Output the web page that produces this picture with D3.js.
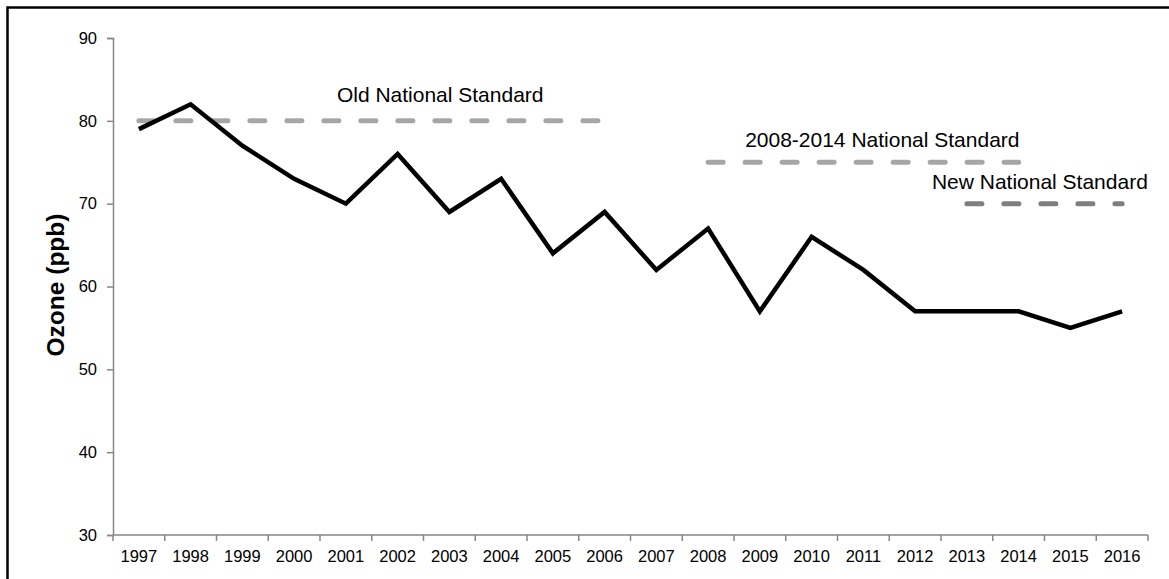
<!DOCTYPE html>
<html>
<head>
<meta charset="utf-8">
<script src="https://cdn.jsdelivr.net/npm/d3@7"></script>
<style>
  html, body { margin: 0; padding: 0; background: #fff; }
  svg { display: block; }
  text { font-family: "Liberation Sans", Arial, sans-serif; fill: #000; }
</style>
</head>
<body>
<svg id="chart" width="1169" height="579"></svg>
<script>
const years = ["1997","1998","1999","2000","2001","2002","2003","2004","2005","2006",
               "2007","2008","2009","2010","2011","2012","2013","2014","2015","2016"];
const ozone = [79, 82, 77, 73, 70, 76, 69, 73, 64, 69, 62, 67, 57, 66, 62, 57, 57, 57, 55, 57];
const yTicks = [30, 40, 50, 60, 70, 80, 90];
const standardNames = ["Old National Standard", "2008-2014 National Standard", "New National Standard"];
const standardValues = [80, 75, 70];
const standardStart = ["1997", "2008", "2013"];
const standardEnd = ["2006", "2014", "2016"];
const yLabel = "Ozone (ppb)";

(function () {
const svg = d3.select("#chart");
const mLeft = 113, mRight = 1148, mTop = 38, mBottom = 535;

// outer frame
svg.append("rect").attr("x", 7.5).attr("y", 7.5).attr("width", 1300).attr("height", 700)
  .attr("fill", "none").attr("stroke", "#000").attr("stroke-width", 2.5);

const x = d3.scaleBand().domain(years).range([mLeft, mRight]).paddingInner(0).paddingOuter(0);
const y = d3.scaleLinear().domain([30, 90]).range([mBottom, mTop]);
const cx = d => x(d) + x.bandwidth() / 2;

const axisColor = "#868686";

// y axis
const yAxis = svg.append("g").attr("transform", `translate(${mLeft},0)`)
  .call(d3.axisLeft(y).tickValues(yTicks).tickSize(6).tickPadding(10).tickFormat(d3.format("d")));
yAxis.select(".domain").attr("stroke", axisColor).attr("stroke-width", 1.5);
yAxis.selectAll(".tick line").attr("stroke", axisColor).attr("stroke-width", 1.5);
yAxis.selectAll(".tick text").style("font-size", "16.5px").attr("fill", "#000");

// x axis labels
const xAxis = svg.append("g").attr("transform", `translate(0,${mBottom})`)
  .call(d3.axisBottom(x).tickSize(0).tickPadding(15));
xAxis.select(".domain").remove();
xAxis.selectAll(".tick text").style("font-size", "16.5px").attr("fill", "#000");

// x axis line and boundary ticks
svg.append("line").attr("x1", mLeft).attr("x2", mRight).attr("y1", mBottom).attr("y2", mBottom)
  .attr("stroke", axisColor).attr("stroke-width", 1.5);
const bounds = years.map(d => x(d)).concat([x(years[years.length - 1]) + x.bandwidth()]);
svg.append("g").selectAll("line").data(bounds).join("line")
  .attr("x1", d => d).attr("x2", d => d).attr("y1", mBottom).attr("y2", mBottom + 6)
  .attr("stroke", axisColor).attr("stroke-width", 1.5);

// y label
svg.append("text")
  .attr("transform", `translate(55,285) rotate(-90)`)
  .attr("text-anchor", "middle").attr("dy", "0.35em")
  .style("font-size", "24.5px").style("font-weight", "bold")
  .text(yLabel);

// standard lines
const stdColors = ["#a6a6a6", "#a6a6a6", "#7f7f7f"];
standardValues.forEach((v, i) => {
  svg.append("line")
    .attr("x1", cx(standardStart[i])).attr("x2", cx(standardEnd[i]))
    .attr("y1", y(v)).attr("y2", y(v))
    .attr("stroke", stdColors[i]).attr("stroke-width", 5)
    .attr("stroke-linecap", "round").attr("stroke-dasharray", "15,22");
});

// main line
const line = d3.line().x((d, i) => cx(years[i])).y(d => y(d));
svg.append("path").datum(ozone).attr("d", line)
  .attr("fill", "none").attr("stroke", "#000").attr("stroke-width", 4.5)
  .attr("stroke-linejoin", "miter");

// standard labels
const labelPos = [
  {x: cx("2001") - 9, y: y(80) - 19},
  {x: cx("2008") + 37, y: y(75) - 15},
  {x: cx("2013") - 35, y: y(70) - 15}
];
standardNames.forEach((n, i) => {
  svg.append("text").attr("x", labelPos[i].x).attr("y", labelPos[i].y)
    .style("font-size", "21px").text(n);
});
})();
</script>
</body>
</html>
